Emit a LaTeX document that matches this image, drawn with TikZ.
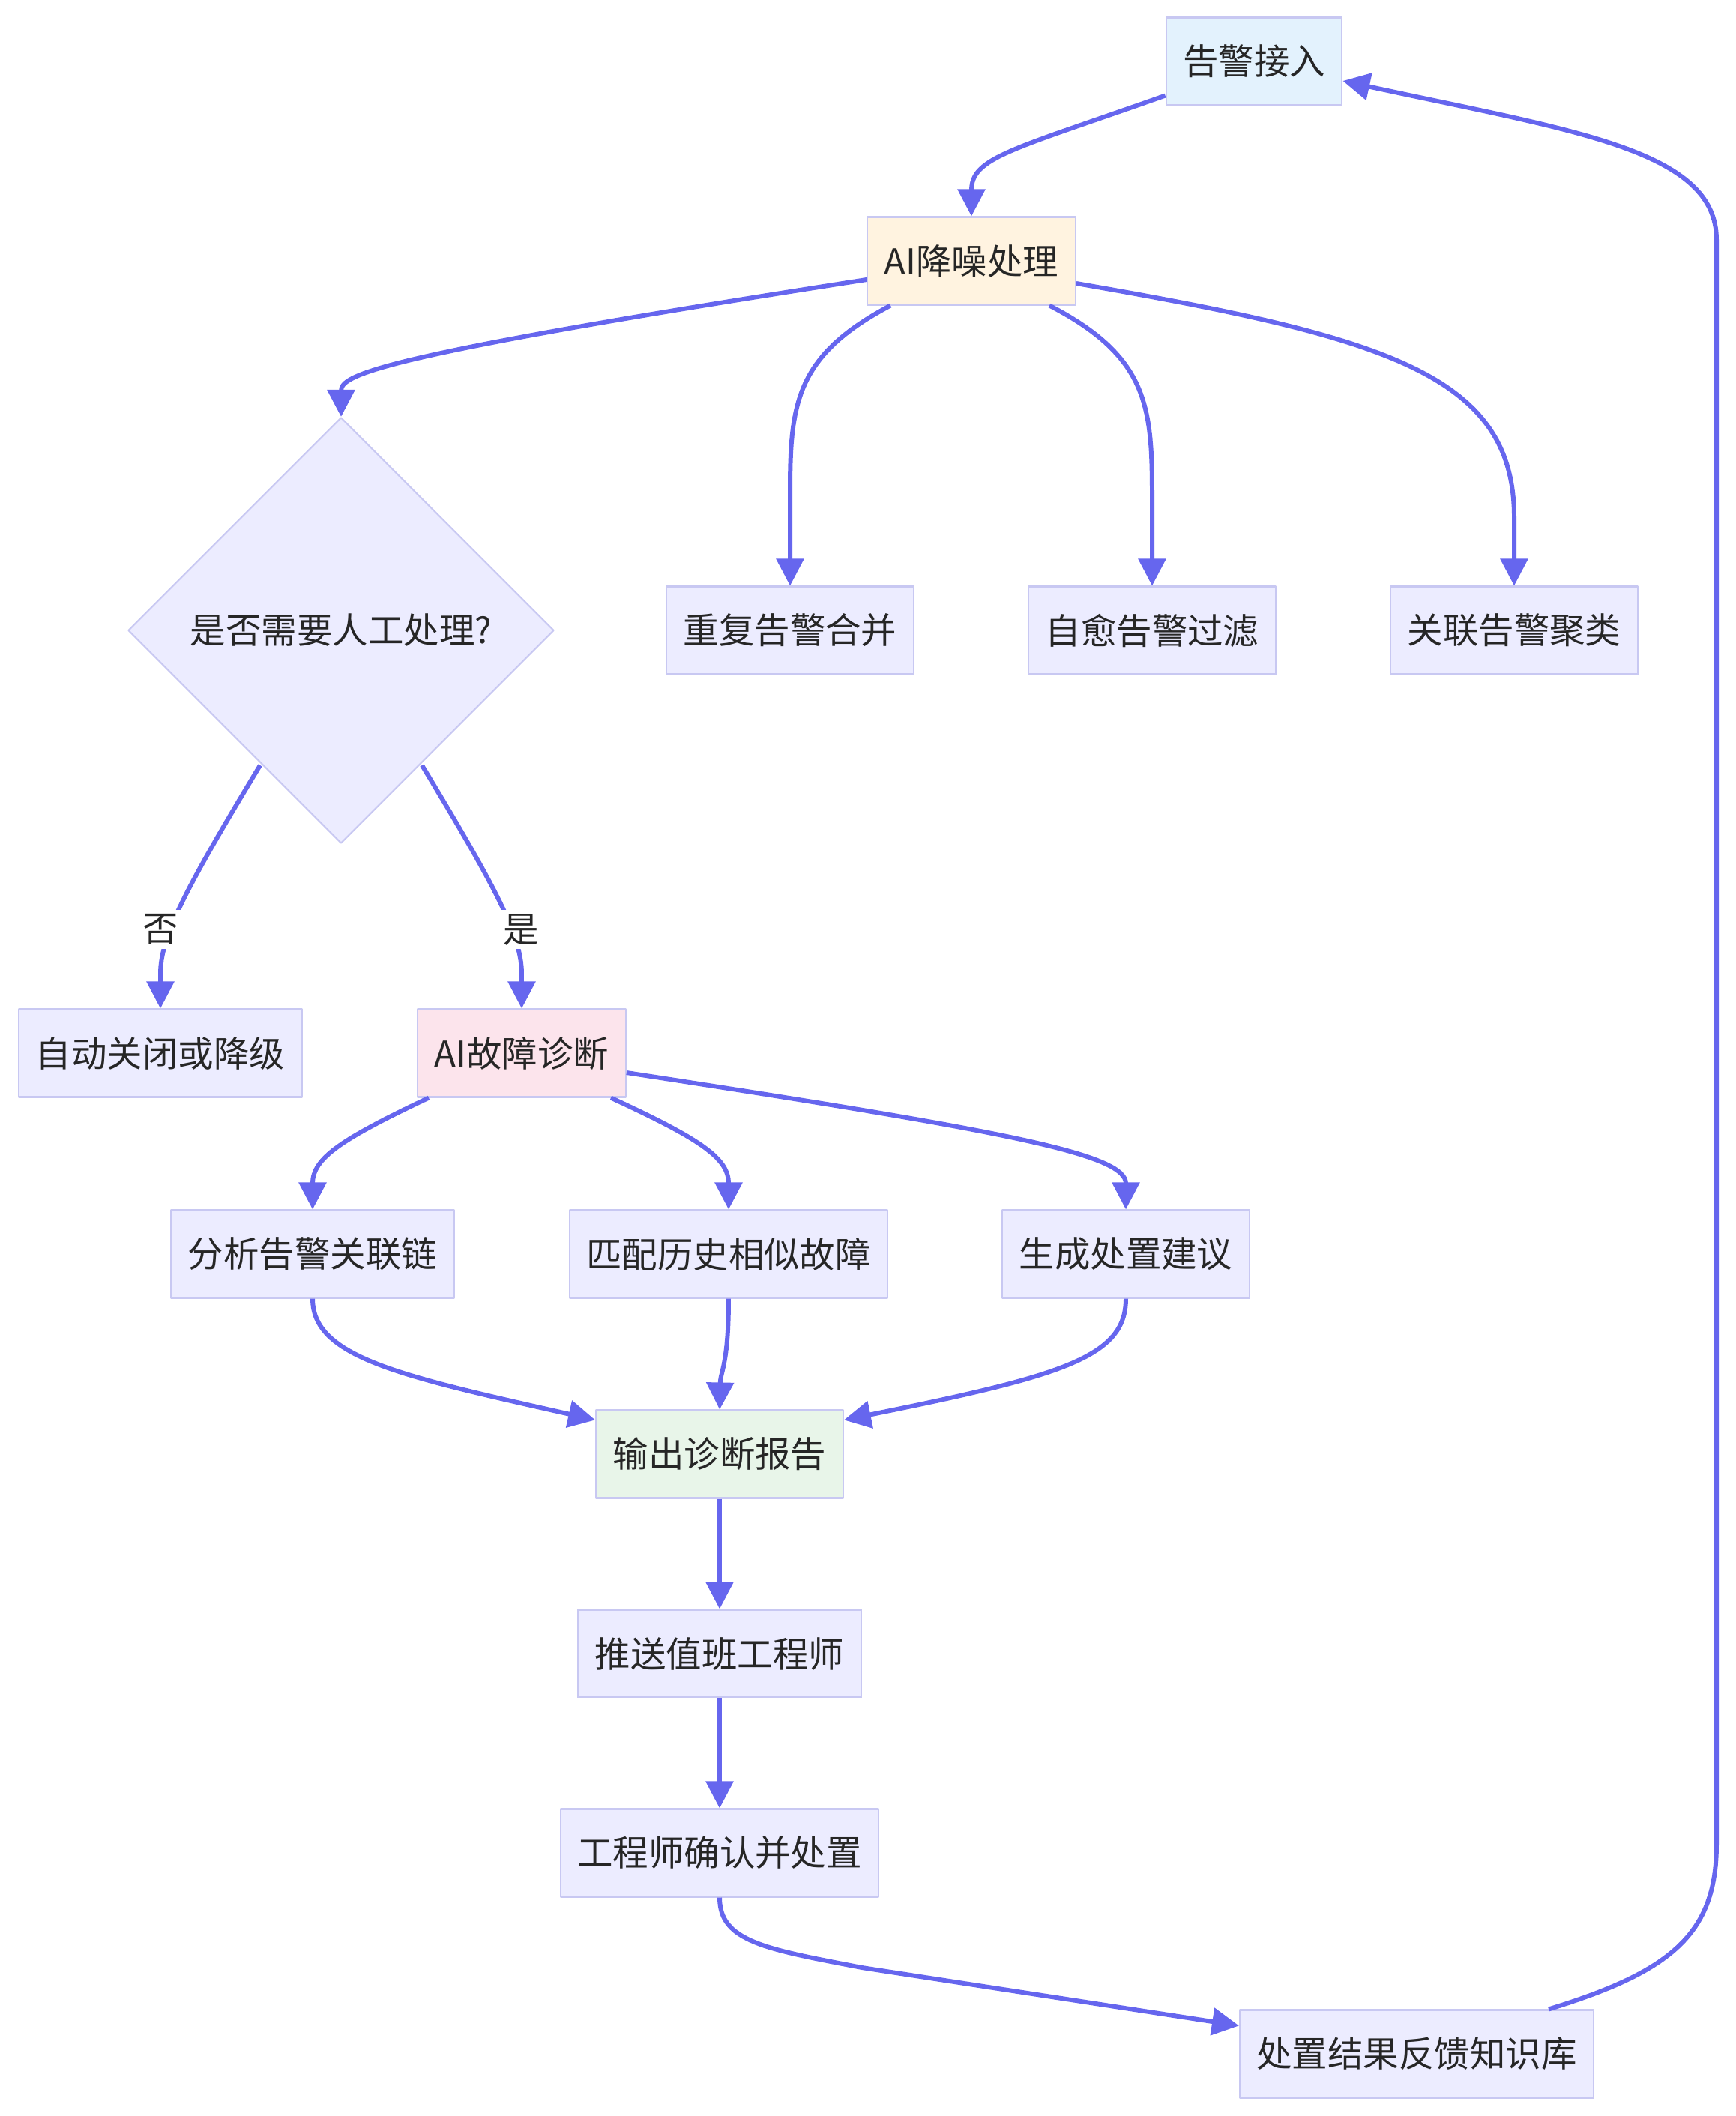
\documentclass[tikz,border=0pt]{standalone}
\usepackage{fontspec}
\setmainfont{Noto Sans CJK SC}
\usetikzlibrary{shapes.geometric, arrows.meta, calc}
\definecolor{edgeblue}{RGB}{102,102,238}
\definecolor{nodeline}{RGB}{200,200,242}
\definecolor{nodefill}{HTML}{ECECFF}
\definecolor{infill}{HTML}{E3F2FD}
\definecolor{aifill}{HTML}{FFF3E0}
\definecolor{diagfill}{HTML}{FCE4EC}
\definecolor{outfill}{HTML}{E8F5E9}
\definecolor{txt}{HTML}{262626}
\tikzset{>={Triangle[length=0.36cm,width=0.36cm]}}

\begin{document}
\begin{tikzpicture}[line join = round,
    box/.style = {draw=nodeline, line width=0.6pt, fill=nodefill, minimum height=1.17cm, inner xsep=0.225cm, text=txt, font=\fontsize{13.5}{16}\selectfont},
    decide/.style = {box, shape=diamond, minimum width=5.68cm, minimum height=5.68cm, inner sep=0pt},
    link/.style = {->, draw=edgeblue, line width=1.7pt},
    lbl/.style = {fill=white, text=txt, inner sep=1.5pt, font=\fontsize{13.5}{16}\selectfont}]
    \useasboundingbox (0,0) rectangle (23.16,-28.23);
    % nodes
    \node[box, fill=infill] (alarm) at (16.73,-0.82) {告警接入};
    \node[box, fill=aifill] (denoise) at (12.96,-3.48) {AI降噪处理};
    \node[decide] (need) at (4.55,-8.41) {是否需要人工处理?};
    \node[box] (dup) at (10.54,-8.41) {重复告警合并};
    \node[box] (heal) at (15.37,-8.41) {自愈告警过滤};
    \node[box] (corr) at (20.20,-8.41) {关联告警聚类};
    \node[box] (auto) at (2.14,-14.05) {自动关闭或降级};
    \node[box, fill=diagfill] (diag) at (6.96,-14.05) {AI故障诊断};
    \node[box] (chain) at (4.17,-16.73) {分析告警关联链};
    \node[box] (match) at (9.72,-16.73) {匹配历史相似故障};
    \node[box] (advise) at (15.02,-16.73) {生成处置建议};
    \node[box, fill=outfill] (report) at (9.60,-19.40) {输出诊断报告};
    \node[box] (push) at (9.60,-22.06) {推送值班工程师};
    \node[box] (confirm) at (9.60,-24.72) {工程师确认并处置};
    \node[box] (kb) at (18.90,-27.40) {处置结果反馈知识库};
    % links
    \draw[link] ($(alarm.south west)+(0,0.14)$) .. controls (13.5,-2.0) and (12.96,-2.1) .. (denoise.north);
    \draw[link] ($(denoise.west)+(0,-0.25)$) .. controls (5.0,-4.75) and (4.55,-5.0) .. (need.north);
    \draw[link] ($(denoise.south)+(-1.08,0)$) .. controls (10.6,-4.75) and (10.54,-5.4) .. (10.54,-6.6) -- (dup.north);
    \draw[link] ($(denoise.south)+(1.04,0)$) .. controls (15.3,-4.75) and (15.37,-5.4) .. (15.37,-6.6) -- (heal.north);
    \draw[link] ($(denoise.east)+(0,-0.30)$) .. controls (18.5,-4.5) and (20.2,-5.0) .. (20.2,-6.9) -- (corr.north);
    \draw[link] (3.47,-10.21) .. controls (2.45,-11.9) and (2.14,-12.5) .. (2.14,-13.0) -- (auto.north);
    \draw[link] (5.63,-10.21) .. controls (6.65,-11.9) and (6.96,-12.5) .. (6.96,-13.0) -- (diag.north);
    \draw[link] ($(diag.south)+(-1.24,0)$) .. controls (4.55,-15.2) and (4.17,-15.45) .. (chain.north);
    \draw[link] ($(diag.south)+(1.19,0)$) .. controls (9.35,-15.2) and (9.72,-15.45) .. (match.north);
    \draw[link] ($(diag.east)+(0,-0.26)$) .. controls (13.5,-15.1) and (15.02,-15.4) .. (advise.north);
    \draw[link] (chain.south) .. controls (4.17,-18.1) and (5.3,-18.35) .. ($(report.north west)+(0,-0.14)$);
    \draw[link] (match.south) .. controls (9.72,-18.2) and (9.61,-18.3) .. (report.north);
    \draw[link] (advise.south) .. controls (15.02,-18.1) and (14.2,-18.35) .. ($(report.north east)+(0,-0.14)$);
    \draw[link] (report) -- (push);
    \draw[link] (push) -- (confirm);
    \draw[link] (confirm.south) .. controls (9.6,-25.9) and (10.2,-26.0) .. (11.5,-26.25) -- ($(kb.north west)+(0,-0.22)$);
    \draw[link] ($(kb.north)+(1.76,0)$) .. controls (22.3,-26.3) and (22.9,-25.8) .. (22.9,-24.6) -- (22.9,-3.2) .. controls (22.9,-2.0) and (21.0,-1.75) .. ($(alarm.east)+(0,-0.26)$);
    % labels
    \node[lbl] (lno) at (2.14,-12.40) {否};
    \node[lbl] (lyes) at (6.95,-12.40) {是};
\end{tikzpicture}
\end{document}
